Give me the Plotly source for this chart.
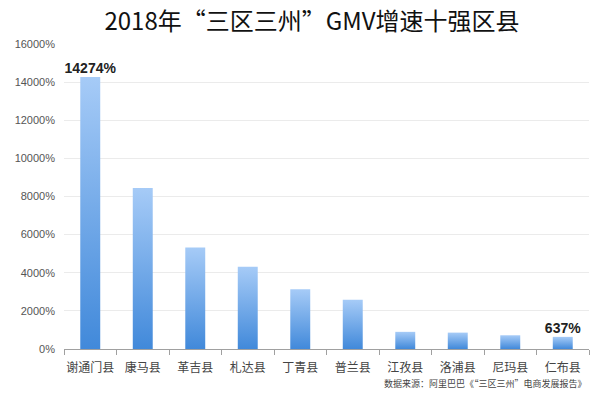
import plotly.graph_objects as go

categories = ["谢通门县", "康马县", "革吉县", "札达县", "丁青县", "普兰县", "江孜县", "洛浦县", "尼玛县", "仁布县"]
growth = [14274, 8450, 5330, 4320, 3130, 2580, 900, 860, 720, 637]
labels = ["14274%", "", "", "", "", "", "", "", "", "637%"]
ytick_vals = [0, 2000, 4000, 6000, 8000, 10000, 12000, 14000, 16000]
ytick_text = ["0%", "2000%", "4000%", "6000%", "8000%", "10000%", "12000%", "14000%", "16000%"]

FONT = "Noto Sans CJK SC, Noto Sans, sans-serif"
half = 0.19

fig = go.Figure()
for i, v in enumerate(growth):
    fig.add_trace(go.Scatter(
        x=[i - half, i + half, i + half, i - half, i - half],
        y=[0, 0, v, v, 0],
        mode="lines", line=dict(width=0), fill="toself",
        fillgradient=dict(type="vertical", colorscale=[[0, "#4189da"], [1, "#a6cbf7"]]),
        hoverinfo="skip", showlegend=False,
    ))

fig.add_trace(go.Scatter(
    x=list(range(len(categories))), y=growth, mode="text", text=labels,
    textposition="top center",
    textfont=dict(family="Arial, Liberation Sans, sans-serif", size=14, color="#222"),
    texttemplate="<b>%{text}</b>", showlegend=False, hoverinfo="skip",
))

fig.update_layout(
    width=600, height=400,
    margin=dict(l=64, r=11, t=44, b=51),
    paper_bgcolor="white", plot_bgcolor="white",
    title=dict(text="2018年“三区三州”GMV增速十强区县", x=0.52, xanchor="center",
               y=0.947, yanchor="middle",
               font=dict(family=FONT, size=24, color="#111")),
    font=dict(family=FONT),
)
fig.update_xaxes(
    range=[-0.5, len(categories) - 0.5],
    tickvals=list(range(len(categories))), ticktext=categories,
    ticks="", showgrid=False, zeroline=False,
    showline=True, linecolor="#a0a0a0", linewidth=1,
    tickfont=dict(family=FONT, size=12, color="#444"),
    ticklabelstandoff=8,
    minor=dict(ticks="outside", tick0=-0.5, dtick=1, ticklen=5, tickcolor="#a0a0a0", showgrid=False),
)
fig.update_yaxes(
    range=[0, 16000], tickvals=ytick_vals, ticktext=ytick_text,
    showgrid=True, gridcolor="#ebebeb", zeroline=False, showline=False,
    tickfont=dict(family="Arial, Liberation Sans, sans-serif", size=11, color="#555"),
    ticks="", ticklabelstandoff=8,
)
fig.add_annotation(
    text="数据来源：阿里巴巴《“三区三州”电商发展报告》",
    xref="paper", yref="paper", x=1.0, y=-0.112, xanchor="right", yanchor="middle",
    showarrow=False, font=dict(family=FONT, size=9, color="#444"),
)

fig.write_html("out.html")
